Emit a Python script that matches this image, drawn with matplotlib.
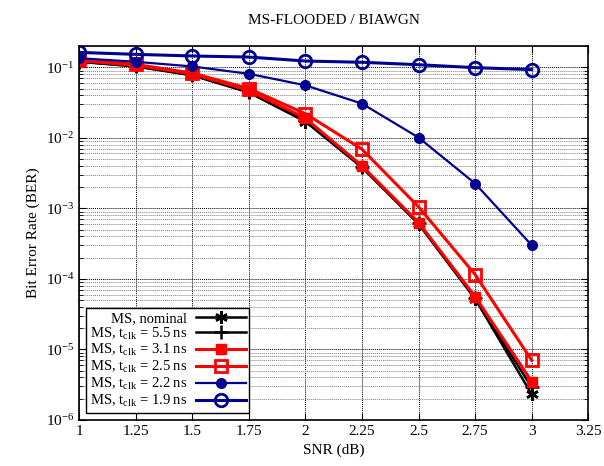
import numpy as np
import matplotlib
matplotlib.use('Agg')
import matplotlib.pyplot as plt
from matplotlib.ticker import LogLocator, NullFormatter

plt.rcParams['font.family'] = ['Liberation Serif', 'DejaVu Serif']
plt.rcParams['mathtext.fontset'] = 'custom'
plt.rcParams['mathtext.rm'] = 'Liberation Serif'
plt.rcParams['mathtext.it'] = 'Liberation Serif:italic'

# SNR points (dB)
snr = [1, 1.25, 1.5, 1.75, 2, 2.25, 2.5, 2.75, 3]

# BER per decoder setting
ber_nominal = [0.120, 0.103, 0.077, 0.044, 0.0170, 0.0038, 6.0e-4, 5.2e-5, 2.3e-6]
ber_55 = [0.121, 0.104, 0.078, 0.045, 0.0175, 0.0039, 6.1e-4, 5.3e-5, 2.9e-6]
ber_31 = [0.125, 0.107, 0.081, 0.047, 0.0190, 0.0040, 6.3e-4, 5.6e-5, 3.5e-6]
ber_25 = [0.128, 0.110, 0.083, 0.050, 0.0220, 0.0069, 1.05e-3, 1.15e-4, 7.0e-6]
ber_22 = [0.135, 0.120, 0.103, 0.081, 0.0556, 0.0306, 0.0101, 2.25e-3, 3.0e-4]
ber_19 = [0.163, 0.153, 0.145, 0.140, 0.123, 0.118, 0.109, 0.099, 0.093]

labels = ['MS, nominal',
          r'MS, t$_{\rm clk}$ = 5.5 ns',
          r'MS, t$_{\rm clk}$ = 3.1 ns',
          r'MS, t$_{\rm clk}$ = 2.5 ns',
          r'MS, t$_{\rm clk}$ = 2.2 ns',
          r'MS, t$_{\rm clk}$ = 1.9 ns']

xticks = [1, 1.25, 1.5, 1.75, 2, 2.25, 2.5, 2.75, 3, 3.25]
xticklabels = ['1', '1.25', '1.5', '1.75', '2', '2.25', '2.5', '2.75', '3', '3.25']

blue = '#000090'

fig = plt.figure(figsize=(6.04, 4.66), dpi=100)
ax = fig.add_axes([0.131, 0.099, 0.843, 0.802])

ax.plot(snr, ber_nominal, color='black', lw=1.8, marker=(6, 2, 0), ms=9, mew=1.8, label=labels[0])
ax.plot(snr, ber_55, color='black', lw=1.8, marker='+', ms=10, mew=1.8, label=labels[1])
ax.plot(snr, ber_31, color='red', lw=2.2, marker='s', ms=7, label=labels[2])
ax.plot(snr, ber_25, color='red', lw=2.2, marker='s', ms=9, mfc='none', mew=2, label=labels[3])
ax.plot(snr, ber_22, color=blue, lw=1.6, marker='o', ms=7, label=labels[4])
ax.plot(snr, ber_19, color=blue, lw=2.2, marker='o', ms=9, mfc='none', mew=2, label=labels[5])

ax.set_yscale('log')
ax.set_xlim(1, 3.25)
ax.set_ylim(1e-6, 0.2)
ax.set_xticks(xticks)
ax.set_xticklabels(xticklabels)
ax.yaxis.set_major_locator(LogLocator(base=10, numticks=10))
ax.yaxis.set_minor_locator(LogLocator(base=10, subs=np.arange(2, 10), numticks=20))
ax.yaxis.set_minor_formatter(NullFormatter())

ax.grid(True, which='major', color='black', lw=0.7, ls=(0, (1, 1)))
ax.grid(True, which='minor', axis='y', color='#808080', lw=0.7, ls=(0, (1, 1)))
ax.set_axisbelow(True)
ax.tick_params(which='both', direction='in', top=True, right=True, labelsize=11)
ax.tick_params(which='major', length=5)
ax.tick_params(which='minor', length=3)
for sp in ax.spines.values():
    sp.set_linewidth(1.2)

ax.set_xlabel('SNR (dB)', fontsize=11)
ax.set_ylabel('Bit Error Rate (BER)', fontsize=11)
ax.set_title('MS-FLOODED / BIAWGN', fontsize=11, pad=16)

# markerfirst=False right-aligns the rows, like the gnuplot key
leg = ax.legend(loc='lower left', bbox_to_anchor=(0.0, 0.0), markerfirst=False,
                fontsize=10.5, frameon=True, fancybox=False, edgecolor='black',
                framealpha=1, borderpad=0.25, labelspacing=0.05, handlelength=3.4,
                handletextpad=0.6, borderaxespad=0.5)
leg.get_frame().set_linewidth(1.0)

fig.savefig('out.png', dpi=100)
